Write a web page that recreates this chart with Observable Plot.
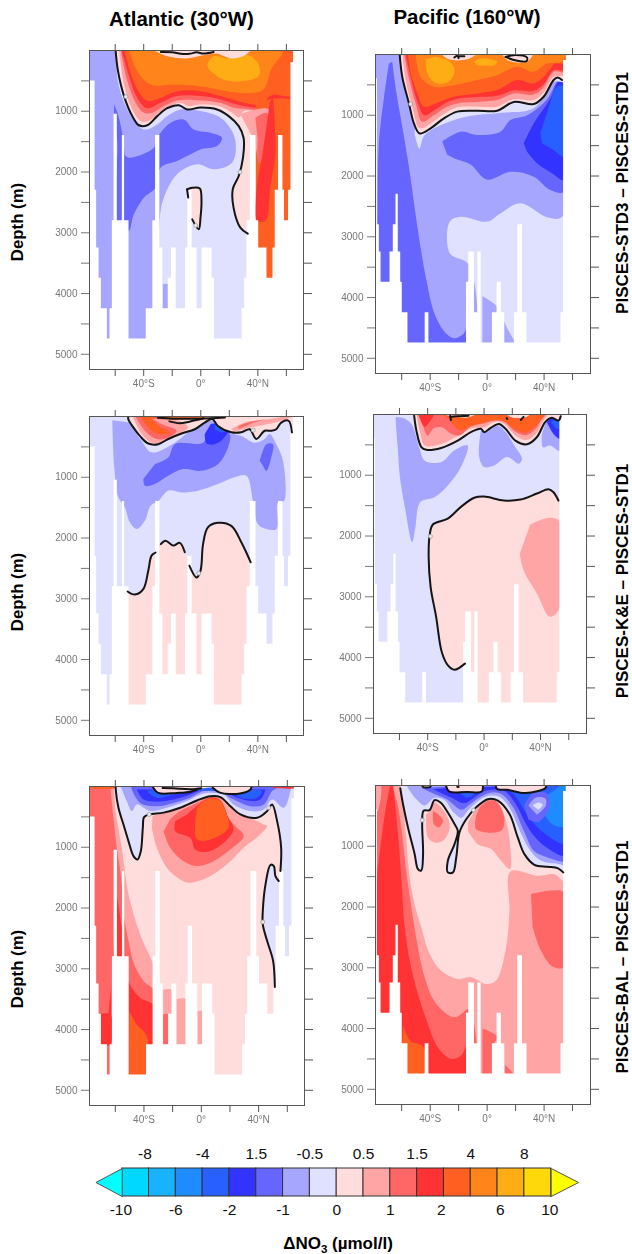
<!DOCTYPE html>
<html><head><meta charset="utf-8">
<script src="https://cdn.jsdelivr.net/npm/d3@7"></script>
<script src="https://cdn.jsdelivr.net/npm/@observablehq/plot@0.6"></script>
<style>
html,body{margin:0;padding:0;background:#fff;width:632px;height:1254px;overflow:hidden;font-family:"Liberation Sans",Arial,sans-serif}
#page{position:relative;width:632px;height:1254px}
.abs{position:absolute}
.panel svg{filter:blur(.45px);display:block;background:transparent}
.txt{position:absolute;font-weight:bold;color:#000;white-space:nowrap;transform:translate(-50%,-50%)}
.rot{transform:translate(-50%,-50%) rotate(-90deg)}
sub{font-size:.68em;line-height:0}
</style></head><body><div id="page"></div>
<script>
// ---- colour key ----
const thresholds=[-10,-8,-6,-4,-2,-1.5,-1,-.5,0,.5,1,1.5,2,4,6,8,10];
const bandColors=["#00ffff","#00d8ff","#19b2ff","#1e8cff","#2860ff","#3333ff","#6666ff","#a6a6ff","#e0e0ff","#ffdddd","#ffa5a5","#ff6666","#ff3333","#ff5f20","#ff851a","#ffad14","#ffd80a","#ffff00"];
const bandValues=[-9,-7,-5,-3,-1.75,-1.25,-.75,-.25,.25,.75,1.25,1.75,3,5,7,9];
const keyTopLabels=["-8","-4","1.5","-0.5","0.5","1.5","4","8"];
const keyBottomLabels=["-10","-6","-2","-1","0","1","2","6","10"];
const keyTopIndex=[.85,3,5,7,9,11,13,15];
const keyBottomIndex=[-.05,2,4,6,8,10,11.9,14.1,15.95];
// ---- axes ----
const latTicks=[-60,-40,-20,0,20,40,60];
const latNames=new Map([[-40,"40°S"],[0,"0°"],[40,"40°N"]]);
const depthTicks=[500,1000,1500,2000,2500,3000,3500,4000,4500,5000];
// ---- sea floor (step function: lat of column's left edge, floor depth) ----
const atlEdges=[-78,-74.1,-73,-71.3,-69.7,-65.5,-63.6,-62,-60.8,-58.5,-55,-53.4,-50.3,-38.2,-33.6,-31.7,-28.7,-26.6,-22.8,-20.5,-17.2,-10.7,-9.1,-6.1,-2.6,.9,7.9,9.6,28.9,30.8,32.4,34.7,38.7,40.6,46.4,50.6,52.2,54.5,57.6,58.7,61.5,63.2,65,72];
const atlFloors=[500,2300,3250,3750,4250,4750,4250,2800,1050,2800,1400,2800,4750,4250,2800,1400,3250,4250,3750,3250,4250,3250,2300,3250,4250,3250,3750,4750,4250,3750,2800,1400,2800,3250,3750,3250,2300,1400,2300,2800,2300,200,0,0];
const pacEdges=[-78.3,-77.1,-75.7,-74.5,-68.2,-65.9,-64,-62.4,-60.7,-59.6,-55.6,-43.5,-40.9,-14.5,-12.9,-8.9,-6.5,-4.2,3.7,7,10,12.4,19.2,21.5,24.8,28,51.9,53.7,55.6,73];
const pacFloors=[400,2800,3250,3750,3250,2800,2300,3250,3750,4250,4750,4250,4750,3750,3250,4250,3250,4750,4250,3750,4250,4750,4250,2800,4250,4750,4250,100,0,0];
const all=[-90,-50,90,-50,90,5400,-90,5400];
// ---- A1: Atlantic, STD3 - STD1 : [band value, [lat,depth,...]] ----
const a1Regions=[
[-.25,all],
[-.75,[-80,0,-60.8,0,-58.5,450,-55,780,-48,1107,-39.9,1300,-30.5,1216,-23.5,1080,-14.2,970,-.2,997,13.8,1107,23,1380,24.2,1710,20.7,1874,9,1956,-2.6,1874,-16.6,2038,-25.9,2422,-28.7,2750,-29.4,3570,-31.7,4780,-80,4780]],
[-.75,[-26.6,3850,-22.8,3850,-22.8,4400,-26.6,4400]],
[-1.25,[-53.4,1710,-50.3,1765,-32.9,1600,-30.5,1435,-21.2,1190,-11.9,1135,-4.9,1300,6.8,1354,14.9,1435,11.4,1573,-.2,1628,-9.6,1737,-16.6,1820,-28.2,1929,-31.7,2258,-39.9,2422,-46.9,2696,-50.3,2970,-53.4,2806]],
[-1.25,[-60.8,885,-58,1052,-55,1381,-53.4,1710,-53.4,2806,-58.5,2806,-58.5,1500,-60.8,1100]],
[.25,[-60,-20,-59.7,0,-58,340,-53.8,750,-48,1080,-43.4,1230,-37.5,1230,-30.5,1080,-23.5,950,-15.4,900,-9.6,970,-.2,940,11.4,970,19.6,1080,26.6,1245,30,1435,29.6,1765,26.6,2066,22.4,2285,23,2590,27.7,2915,32.9,3014,34,4000,70,4000,70,-20]],
[.25,[-9.6,2285,-6,2258,-.7,2270,.5,2477,-.2,2750,-1.4,2943,-6,2780,-8.4,2422]],
[.75,[-57.3,-20,-53.8,560,-48.7,940,-42.2,1160,-36.4,1160,-29.4,1030,-21.2,915,-14.2,860,-8.4,915,-.2,890,12.6,915,21.9,1025,27,1100,30,1000,66,1000,66,-20]],
[1.25,[-56.2,-20,-51.5,504,-45.7,860,-39.9,1025,-34,1025,-25.9,915,-16.6,822,-.2,822,13.8,860,23,943,30,960,66,960,66,-20]],
[1.75,[-55.7,-20,-50.3,420,-44.5,780,-37.5,950,-28.2,860,-16.6,750,-.2,750,13.8,805,30,915,47,960,66,960,66,-20]],
[3,[-53.8,-20,-49.2,370,-44.5,640,-37.5,830,-28.2,780,-16.6,670,-.2,670,13.8,750,30,860,42,890,48,760,51,730,66,730,66,-20]],
[3,[38.5,850,66,850,66,3800,38.5,3800]],
[.75,[27.8,1050,47.6,970,45.3,1570,40.6,1790,38.3,1520]],
[1.25,[38.3,1110,46.4,1030,45.3,1740,40.6,1850,39.9,1465]],
[1.75,[50.6,750,52.3,1680,48.8,2230,45.3,2800,39.4,2800,39.4,2230,43,1740,46.4,1190,48.3,860]],
[5,[-50.3,-20,-44.5,340,-35.2,560,-18.9,560,-.2,590,18.4,670,34.7,700,44,640,49.9,285,56.9,65,58,-20]],
[7,[4.4,230,9,93,18.4,130,32.4,65,40.6,230,40.6,420,30,504,16,477,5.6,312]],
[.25,[-34,-20,-24,90,-10,130,2,80,11,50,21,130,30,90,36,-20]]
];
const a1Lines=[
[-59.7,0,-58,340,-53.8,750,-48,1080,-43.4,1230,-37.5,1230,-30.5,1080,-23.5,950,-15.4,900,-9.6,970,-.2,940,11.4,970,19.6,1080,26.6,1245,30,1435,29.6,1765,26.6,2066,22.4,2285,23,2590,27.7,2915,32.9,3014],
[-9.6,2285,-6,2258,-.7,2270,.5,2477,-.2,2750,-1.4,2943,-6,2780],
[-9.6,2285,-8.8,2420],
[-28,25,-20,30,-14,55,-8,55,-3,30,2,50,9,25]
];
const a1Dots=[[-52.5,760],[27.5,2000],[-3.5,2880]];
// ---- P1: Pacific, STD3 - STD1 ----
const p1Regions=[
[-.25,all],
[-.75,[-90,-20,60,-20,52.6,2670,42,2680,23.4,2450,9.3,2615,0,2750,-18.7,2670,-26.2,2750,-26.2,3270,-12.9,3460,-12.9,4800,-90,4800]],
[-.75,[-3.3,3980,7,4150,13,4450,19,4800,-3.3,4800]],
[-1.25,[-66.6,120,-63.6,640,-59.6,1190,-54.9,1850,-49,2830,-43.2,3650,-36.2,4310,-28,4610,-23.4,4670,-16.4,4590,-14,4450,-14,4800,-78.3,4800,-77,2830,-76,1460,-72.4,700,-69,150]],
[-1.25,[-31.5,1430,-18.7,1270,-7,1325,9.3,1270,16.4,1080,28,1000,42,740,50.2,420,54,420,54,2260,44.4,2230,32.7,2010,16.4,1930,0,2060,-11.7,1810,-21,1730,-28,1650]],
[-1.75,[25.7,1460,32.7,1135,44.4,723,50.2,450,54,480,54,2065,45.6,1955,35,1790,28,1600]],
[-3,[37.4,1300,42,970,49,530,54,530,54,1680,46.7,1570,38.6,1460]],
[-.25,[-51,1300,-47.5,1550,-44,1330,-28,1120,-14,1020,10,960,33,880,47,450,54,450,54,300,-50,1000]],
[.25,[-61.4,-20,-59.6,370,-54.9,805,-51.4,1135,-47.4,1300,-39.7,1215,-30.4,1050,-21,940,-7,925,7,925,18.7,780,32.7,815,39.7,695,46.7,420,49.5,380,54,420,56,-20]],
[.75,[-59.6,-20,-57.2,420,-52.6,860,-47.4,1215,-39.7,1135,-30.4,980,-21,870,-7,860,7,860,18.7,735,32.7,750,39.7,630,46.7,370,54,340,56,-20]],
[1.25,[-58.4,-20,-54.9,395,-50.2,805,-45.6,1105,-37.4,1000,-28,860,-18.7,795,-7,780,7,750,18.7,640,32.7,660,39.7,540,46.7,285,54,285,56,-20]],
[1.75,[-57.5,-20,-53.5,395,-49,780,-44,1000,-36,900,-27,775,-18,720,-7,700,7,680,18.7,590,32.7,600,39.7,490,46.7,260,54,250,56,-20]],
[3,[-55.6,-20,-53.7,310,-49,640,-44.4,860,-36.2,805,-23.4,695,-7,640,7,585,21,420,32.7,475,40.9,340,47.9,150,54,150,56,-20]],
[5,[-50.2,-20,-46.7,370,-37.4,530,-23.4,505,-7,420,7,340,21,200,32.7,285,42,150,52.6,120,55,-20]],
[7,[-43,80,-42,310,-36,470,-26,430,-23,230,-28,90,-37,40]],
[7,[-9.3,120,-4.7,65,7,120,4.7,175,-7,175]],
[.25,[-32.7,-20,-26.9,80,-14,80,-7,-10]],
[.25,[10.5,-20,14,90,28,120,32.7,-20]]
];
const p1Lines=[
[-61.4,0,-59.6,370,-54.9,805,-51.4,1135,-47.4,1300,-39.7,1215,-30.4,1050,-21,940,-7,925,7,925,18.7,780,32.7,815,39.7,695,46.7,420,49.5,380,52.6,420],
[-23,50,-21,20,-20,60],[-20,30,-16,30],
[12.9,40,19.9,10,28,50,27.5,110,18.7,90,12.9,40]
];
const p1Dots=[[-53.7,815]];
// ---- A2: Atlantic, K&E - STD1 ----
const a2Regions=[
[-.25,all],
[-.75,[-62,60,-60.6,840,-57.8,1330,-53.1,1500,-49.7,1740,-45,1850,-39.2,1715,-35.2,1470,-29.8,1390,-22.8,1220,-13.5,1250,-1.9,1220,12,1110,23.8,1000,32,975,36.6,1390,40,1770,46,1850,53,1850,54,1415,58.3,1390,57.6,730,52.9,455,48.3,290,44.8,370,37.8,430,28.4,320,19,260,9.8,80,.5,100,-18.2,430,-34.5,590,-41.5,400,-49.7,100]],
[-1.25,[-40.3,1030,-39.2,1140,-32.2,1110,-22.8,975,-12.4,865,.5,893,12,785,19.1,510,20.3,290,12,125,6.3,210,1.6,430,-18.2,455,-22.8,675,-32.2,785]],
[-1.25,[41.3,730,46,455,50.6,455,49.4,675,46,895,43.6,810]],
[-1.75,[2.8,290,4,445,9.8,455,15.6,370,19,235,13.3,115,7,125]],
[-3,[9.8,125,13.3,115,18,235,14.5,260,9.8,210]],
[.25,[-51.3,2880,-46.2,2930,-40.3,2840,-36.8,2540,-34.5,2290,-31.7,2240,-24.7,2045,-19.3,2125,-14.7,2080,-11.2,2235,-7.7,2455,-3,2650,-.2,2540,1.6,2100,5,1825,12,1750,21.4,1800,28.4,2070,33,2300,33,5000,-51.3,5000]],
[.25,[-51.5,-20,-50.8,45,-47.3,180,-42.7,320,-36.8,445,-29.8,455,-22.8,370,-13.5,280,-4.2,210,2.8,100,8,40,12,155,21.4,260,28.4,260,34.3,210,38.9,370,44.8,235,49.4,235,52.9,210,56.4,100,61.5,70,64.5,260,66,-20]],
[.75,[-48,-20,-41.5,290,-34.5,430,-27.5,430,-15.9,290,-8.9,180,-20,20,-30,-20]],
[1.25,[-46.2,-20,-39.2,235,-31,370,-22.8,345,-17,235,-27.5,125,-36.8,-10]],
[3,[-42.7,-20,-36.8,180,-29.8,290,-21.7,265,-29.8,150,-36.8,-10]],
[.75,[21.4,210,30.8,100,47,45,65,-10,52,100,35,180,24,245]],
[1.25,[26,170,33,100,45,50,36,110,27,200]],
[3,[-2,0,5,30,-30,40,-45,0]]
];
const a2Lines=[
[-50.8,0,-50.8,45,-47.3,180,-42.7,320,-36.8,445,-29.8,455,-22.8,370,-13.5,280,-4.2,210,2.8,100,8,40,12,155,21.4,260,28.4,260,34.3,210,38.9,370,44.8,235,49.4,235,52.9,210,56.4,100,61.5,70,63.9,260],
[-51.3,2880,-46.2,2930,-40.3,2840,-36.8,2540,-34.5,2290,-31.7,2240],
[-28,2100,-24.7,2045,-19.3,2125,-14.7,2080,-11.2,2235],
[-8,2455,-3,2650,-.2,2540,1.6,2100,5,1825,12,1750,21.4,1800,28.4,2070,35,2400],
[-30,20,-20,35,-10,35,0,35,17,15],
[-22,80,-15,110,-8,85,2,30]
];
const a2Dots=[[36.8,225],[-1.4,2580]];
// ---- P2: Pacific, K&E - STD1 ----
const p2Regions=[
[-.25,all],
[-.75,[-62.8,40,-61.4,480,-59.7,1030,-56.2,1520,-51,2100,-48.7,1850,-45.2,1440,-35.1,1360,-24.6,1140,-16.4,865,-11.7,510,-21,590,-30.4,785,-42.2,755,-45.7,565,-51.5,155,-57.4,55]],
[-.75,[-2.3,265,-3.5,700,0,865,7,840,16.4,700,24.6,810,26.9,730,22.2,540,15.2,290,9.4,180,2.3,290]],
[-.75,[41,320,41.7,540,46.8,510,54,600,54,100,44.5,70]],
[-1.75,[44.5,125,49.2,320,54,400,54,100,48,45]],
[-3,[47.3,110,51.5,235,54,235,54,70]],
[.25,[-50,-20,-49.6,15,-48,265,-44.5,535,-41,580,-30.4,550,-18.7,430,-9.4,290,-2.3,235,0,290,4.7,220,10.5,155,15.2,235,22.2,430,30.4,490,37.5,370,43.3,125,48,55,52.7,100,54.3,30,56,-20]],
[.75,[-48,-20,-45.7,265,-42,510,-30,480,-20,370,-9,230,0,210,9,110,15,170,22,340,30,420,37.5,300,42,100,46,-20]],
[1.25,[-46.5,-20,-43,210,-40,350,-36,230,-30,210,-23,320,-17,340,-9,190,0,150,9,80,15,130,22,280,30,340,36.5,240,41,70,45,-20]],
[3,[-30,-20,-25,80,-17,265,-10,200,0,130,8,100,14,110,21,230,29,300,36,200,41,70,44,-20]],
[1.75,[-47,-20,-42,200,-38,100,-35,-20]],
[.25,[-32,-20,-23,30,-12,50,-4,-20]],
[.25,[15,-20,20,50,30,40,34,-20]],
[.25,[-13.6,4100,-21,4200,-25.8,4125,-30,3910,-34,3330,-37.9,2840,-39.3,2345,-38.6,1990,-36.3,1810,-25.8,1715,-16.4,1520,-7,1370,0,1350,14,1415,25.8,1400,37.5,1300,45.7,1230,49.2,1280,54,1415,54,5000,-13,5000]],
[.75,[32.7,1810,46.8,1700,54,1770,54,3170,46.8,3330,37.5,2950,28,2565,25.3,2290]]
];
const p2Lines=[
[-49.6,15,-48,265,-44.5,535,-41,580,-30.4,550,-18.7,430,-9.4,290,-2.3,235,0,290,4.7,220,10.5,155,15.2,235,22.2,430,30.4,490,37.5,370,43.3,125,48,55,52.7,100,54.3,30],
[-13.6,4100,-21,4200,-25.8,4125,-30,3910,-34,3330,-37.9,2840,-39.3,2345,-38.6,1990,-36.3,1810,-25.8,1715,-16.4,1520,-7,1370,0,1350,14,1415,25.8,1400,37.5,1300,45.7,1230,49.2,1280,52.7,1415],
[-24,40,-20,30,-11,20],[-24,20,-23.5,90],
[16,60,16.5,75],[26,90,28,40]
];
const p2Dots=[[-38,2005]];
// ---- A3: Atlantic, BAL - STD1 ----
const a3Regions=[
[.25,all],
[.75,[-60,400,-55.5,1010,-50.8,1775,-42.7,2430,-34.5,2870,-33,3000,-33,5000,-80,5000,-80,-20,-61,-20]],
[1.25,[-63.6,-20,-61.3,515,-59,1010,-56.2,1445,-53.8,2160,-50.8,2540,-46.9,2925,-40.3,3200,-33,3365,-33,5000,-80,5000,-80,-20]],
[1.75,[-58.5,1830,-55.5,2320,-50.8,3200,-42.7,3475,-33,3610,-33,5000,-62,5000,-62,3000,-59,2000]],
[1.25,[-63,3000,-62,3000,-62,5000,-66,5000,-66,4250,-63,4250]],
[1.75,[-72,3750,-63.6,3750,-63.6,4250,-72,4250]],
[3,[-50.3,3700,-45,3920,-38.2,4100,-38.2,5000,-50.3,5000]],
[.75,[-34.5,680,-31,1010,-24,1340,-14.7,1530,-8.9,1585,4,1500,18,1280,29.6,1010,40,815,45.9,650,43.6,625,34.3,515,20,325,13,175,6,160,-3,230,-15,350,-26,430,-34,480]],
[1.25,[-26.3,735,-21.7,1010,-12.4,1230,-3,1310,6.3,1255,20.3,1035,29.6,815,22.6,625,18,490,13.3,215,6.3,175,-3,270,-14.7,405,-21.7,540]],
[1.75,[-18.2,570,-18.2,735,-7.7,845,-4.2,1035,4,1075,15.6,925,22.6,705,19,515,13.3,230,6.3,185,-1.9,300,-10,460]],
[3,[-3,350,-3,870,8.6,855,19,680,18,490,13.3,240,6.3,195,.5,270]],
[.75,[-26.6,3350,-20.5,3350,-20.5,4300,-26.6,4300]],
[1.25,[-26.6,3750,-22.8,3750,-22.8,4300,-26.6,4300]],
[.75,[-17.2,3500,-10.7,3500,-10.7,4300,-17.2,4300]],
[.75,[-2.6,3700,.9,3700,.9,4300,-2.6,4300]],
[-.25,[-59.7,-20,-59.7,50,-57.8,350,-54.3,625,-50.8,900,-47.3,1145,-44.5,1200,-42.2,1065,-40.8,680,-39.9,505,-36.4,460,-26.3,430,-14.7,350,-3,230,6.3,160,13.3,175,20.3,325,27.3,460,38.9,515,45.9,405,49.4,295,52.9,570,55.7,1010,55.2,1390,54,1555,51.7,1475,50.6,1310,48.3,1290,44.8,1610,42.9,2050,42.9,2270,45.9,2540,50.1,2870,51.3,3300,66,3300,66,-20]],
[-.75,[-56.6,-20,-52,240,-48.5,405,-45,295,-35.7,405,-24,350,-10,240,-.7,130,8.6,105,15.6,130,22.6,295,34.3,405,43.6,380,49.4,215,57.6,350,62.2,75,63,-20]],
[-1.25,[-48.5,50,-42.7,270,-31,325,-19.3,270,-7.7,185,1.6,75,13.3,90,22.6,215,34.3,325,43.6,295,49.4,75,52.9,20,-49,10]],
[-1.75,[-45,50,-40.3,215,-31,250,-19.3,215,-7.7,130,1.6,50,13.3,50,22.6,160,34.3,240,41.3,215,44.8,50]],
[-3,[-38,75,-31,185,-19.3,130,-7.7,75,20.3,105,29.6,197,38.9,185,42.4,75,36,50,20,20,-7.7,20,-31,50]],
[.25,[-34,-20,-30,105,-17,105,-3,50,8,20,13,100,27,115,34.3,50,35,-20]],
[1.75,[50,-20,66,-20,66,20,50,25]],
[3,[-80,-20,-60,-20,-60,25,-80,25]]
];
const a3Lines=[
[-59.7,0,-59.7,50,-57.8,350,-54.3,625,-50.8,900,-47.3,1145,-44.5,1200,-42.2,1065,-40.8,680,-39.9,505,-36.4,460,-26.3,430,-14.7,350,-3,230,6.3,160,13.3,175,20.3,325,27.3,460,38.9,515,45.9,405,49.4,295,52.9,570,55.7,1010,55.2,1390],
[54,1555,51.7,1475,50.6,1310,48.3,1290,44.8,1610,42.9,2050,42.9,2270,45.9,2540,50.1,2870,51.3,3300],
[-34,0,-30,105,-17,105,-8,90,-3,50],
[8,20,13,100,27,115,34.3,50,35,0],
[-27,25,-15,35,-5,45,0,30]
];
const a3Dots=[[-36.4,460],[47,350],[42.9,2230]];
// ---- P3: Pacific, BAL - STD1 ----
const p3Regions=[
[.75,all],
[.25,[-60,-20,-57,800,-55,1400,-51,1950,-46.3,2330,-40.4,2770,-32.2,3050,-20.6,3185,-11.2,3155,-.7,3266,6.3,3210,13.3,2660,15.7,2060,16.4,1414,35.5,1485,47.2,1460,54,1570,56,1430,56,-20]],
[1.25,[-67,-20,-63,300,-60.3,690,-56.8,1400,-53.3,2000,-49.8,2500,-43.9,3155,-35.7,3595,-22.9,3815,-13.6,3680,-12,3680,-12,5000,-80,5000,-80,-20]],
[1.75,[-66.1,-20,-63,690,-60.3,1510,-57.9,2330,-54.4,2880,-48.6,3430,-41.6,3925,-34.6,4310,-25.2,4500,-18.2,4445,-14,4250,-14,5000,-80,5000,-80,2000,-76.5,1300,-72,500,-68,-20]],
[.75,[-80,-20,-75,-20,-76.5,400,-80,500]],
[3,[-59,3950,-54,4200,-45,4300,-43.5,4800,-55.6,4800,-59.6,4250]],
[1.25,[30.8,1790,44.9,1730,54,1760,54,2990,46,2980,37.9,2720,32,2335]],
[1.25,[-3.3,4000,7.5,4140,5,4250,5,5000,-3.3,5000]],
[1.25,[12.6,4600,18,4750,12.6,4800]],
[-.25,[-61,-20,-61,45,-59.1,305,-55.6,690,-50.9,1130,-48.6,1375,-46.3,1400,-45,1130,-45.6,610,-44.6,415,-40.4,405,-36.9,240,-32.7,280,-27.6,445,-22.9,635,-20.6,745,-22.9,965,-27.6,1240,-27.6,1430,-24,1430,-21.7,1185,-19.4,770,-14.7,555,-7.7,360,.5,225,7.5,250,15.7,470,21.5,855,26.2,1130,33.2,1305,42.5,1337,49.5,1360,55,1430,56,-20]],
[-.75,[-56,30,-50,220,-44,330,-37,200,-30,240,-24,430,-18,530,-13,400,-6,250,1,170,9,190,16,380,24,800,30,1060,38,1240,50,1290,55,1300,56,-20,-56,-20]],
[-1.25,[-46,40,-36,150,-28,230,-18,400,-12,310,-5,190,2,120,10,140,18,350,26,760,33,1080,42,1180,52,1250,55,1250,56,-20,-30,20]],
[-1.75,[-38,60,-25,200,-16,290,-8,180,0,80,12,90,20,300,27,620,34,860,43,1040,55,1150,56,30,20,20,-20,30]],
[-3,[-20,100,-14,200,-8,130,-2,50,-10,40]],
[-3,[14,50,20,180,28,480,35,680,44,850,55,950,56,20,30,20]],
[-5,[46,100,38,280,44,600,50,680,56,650,56,20,50,20]],
[-1.25,[26,330,32,130,42,130,44,350,36,600,29,560]],
[-.75,[29,330,34,200,41,220,41,340,35,480]],
[-.25,[32,330,36,280,39,320,36,400]],
[.25,[-45,-20,-45,25,-41,25,-40,-20]],
[.25,[-29,-20,-27,90,-16,100,-4,100,-3,-20]],
[.25,[6,-20,8,60,15,70,27,120,40,60,41,-20]],
[.75,[-42.8,470,-41.6,855,-36.9,937,-31,910,-26.4,720,-27.6,525,-33.4,335,-36.9,280,-40.4,445]],
[1.25,[-38,415,-37.4,635,-34,690,-31,580,-34.6,470]],
[.75,[-13.5,745,-6.5,965,2.8,1045,9.8,1240,16,1375,16.1,965,13.3,580,7.5,280,.5,240,-7.7,390,-13.5,610]],
[1.25,[-7.7,500,-7.7,720,9.8,745,12,525,6.3,263,.5,250,-5.4,360]]
];
const p3Lines=[
[-61,45,-59.1,305,-55.6,690,-50.9,1130,-48.6,1375,-46.3,1400,-45,1130,-45.6,610,-44.6,415,-40.4,405,-36.9,240,-32.7,280,-27.6,445,-22.9,635,-20.6,745,-22.9,965,-27.6,1240,-27.6,1430,-24,1430,-21.7,1185,-19.4,770,-14.7,555,-7.7,360,.5,225,7.5,250,15.7,470,21.5,855,26.2,1130,33.2,1305,42.5,1337,49.5,1360,53.5,1430],
[-45.5,0,-45,25,-40,25,-39.5,0],
[-29,0,-26.5,100,-14,105,-3.8,100,-3,0],
[6,0,7,60,14,70,27,125,41,40,41.5,0],
[-21,20,-20,25]
];
const p3Dots=[[-45.6,570],[-9.6,405]];

// ---- assemble ----
const page=document.getElementById("page");
const fontFamily='"Liberation Sans",Arial,sans-serif';
function rowsOfRegions(regions){
  return regions.flatMap(([v,p],id)=>d3.range(0,p.length,2).map(i=>({id,v,lat:p[i],depth:p[i+1]})));
}
function rowsOfLines(lines){
  return lines.flatMap((p,id)=>d3.range(0,p.length,2).map(i=>({id,lat:p[i],depth:p[i+1]})));
}
function panel(left,top,width,domain,edges,floors,regions,lines,dots){
  const ml=50,mr=22,mt=12,mb=30,h=319;
  const floorRows=edges.map((lat,i)=>({lat,floor:floors[i]}));
  const svg=Plot.plot({
    width:ml+width+mr,height:mt+h+mb,marginLeft:ml,marginRight:mr,marginTop:mt,marginBottom:mb,
    style:{background:"transparent",fontFamily},
    x:{domain,label:null},
    y:{domain:[0,5250],reverse:true,label:null},
    color:{type:"threshold",domain:thresholds,range:bandColors},
    marks:[
      Plot.line(rowsOfRegions(regions),{x:"lat",y:"depth",z:"id",fill:"v",stroke:"none",curve:"catmull-rom",clip:true}),
      Plot.areaY(floorRows,{x:"lat",y1:"floor",y2:()=>5250,curve:"step-after",fill:"white",clip:true}),
      Plot.line(rowsOfLines(lines),{x:"lat",y:"depth",z:"id",stroke:"#151515",strokeWidth:2,curve:"catmull-rom",clip:true}),
      Plot.dot(dots,{x:d=>d[0],y:d=>d[1],r:2,fill:"#e8e8e8",stroke:"#999",strokeWidth:.7}),
      Plot.frame({stroke:"#555",strokeWidth:1}),
      Plot.axisX({anchor:"bottom",ticks:latTicks,tickSize:7,tickPadding:3,stroke:"#555",fill:"#777",fontSize:10,label:null,tickFormat:d=>latNames.get(d)??""}),
      Plot.axisX({anchor:"top",ticks:latTicks,tickSize:7,stroke:"#555",label:null,tickFormat:()=>""}),
      Plot.axisY({anchor:"left",ticks:depthTicks,tickSize:8,tickPadding:4,stroke:"#777",fill:"#777",fontSize:10,label:null,tickFormat:d=>d%1000?"":String(d)}),
      Plot.axisY({anchor:"right",ticks:depthTicks,tickSize:8,stroke:"#555",label:null,tickFormat:()=>""})
    ]
  });
  const d=document.createElement("div");
  d.className="abs panel";d.style.left=(left-ml)+"px";d.style.top=(top-mt)+"px";
  d.appendChild(svg);page.appendChild(d);
}
const atlDom=[-78,72],pacDom=[-78.4,72.6];
panel(89,50,214,atlDom,atlEdges,atlFloors,a1Regions,a1Lines,a1Dots);
panel(375,54,215,pacDom,pacEdges,pacFloors,p1Regions,p1Lines,p1Dots);
panel(89,416,214,atlDom,atlEdges,atlFloors,a2Regions,a2Lines,a2Dots);
panel(373,414,213,pacDom,pacEdges,pacFloors,p2Regions,p2Lines,p2Dots);
panel(89,786,215,atlDom,atlEdges,atlFloors,a3Regions,a3Lines,a3Dots);
panel(375,785,215,pacDom,pacEdges,pacFloors,p3Regions,p3Lines,p3Dots);

// colour key
const keyRows=bandValues.map((v,i)=>({v,i}));
const key=Plot.plot({
  width:632,height:90,margin:0,style:{background:"transparent",fontFamily},
  x:{domain:[0,16],range:[121.7,550.7],label:null,axis:null},
  y:{domain:[0,1],range:[56,28],label:null,axis:null},
  color:{type:"threshold",domain:thresholds,range:bandColors},
  marks:[
    Plot.rect(keyRows,{x1:"i",x2:d=>d.i+1,y1:()=>0,y2:()=>1,fill:"v",stroke:"#333",strokeWidth:1,inset:0}),
    Plot.line([{x:0,y:0,v:-11},{x:0,y:1,v:-11},{x:-.98,y:.5,v:-11},{x:0,y:0,v:-11}],{x:"x",y:"y",fill:"v",stroke:"#555",strokeWidth:1}),
    Plot.line([{x:16,y:0,v:11},{x:16,y:1,v:11},{x:17.02,y:.5,v:11},{x:16,y:0,v:11}],{x:"x",y:"y",fill:"v",stroke:"#555",strokeWidth:1}),
    Plot.text(keyTopLabels,{x:(d,i)=>keyTopIndex[i],y:()=>1,dy:-14,text:d=>d,fontSize:15.5,fill:"#111"}),
    Plot.text(keyBottomLabels,{x:(d,i)=>keyBottomIndex[i],y:()=>0,dy:14,text:d=>d,fontSize:15.5,fill:"#111"})
  ]
});
const kd=document.createElement("div");kd.className="abs";kd.style.left="0";kd.style.top="1140px";kd.appendChild(key);page.appendChild(kd);

// titles
function txt(html,x,y,size,rot){
  const d=document.createElement("div");d.className="txt"+(rot?" rot":"");
  d.innerHTML=html;d.style.left=x+"px";d.style.top=y+"px";d.style.fontSize=size+"px";page.appendChild(d);
}
txt("Atlantic (30°W)",181.5,19,20.5);
txt("Pacific (160°W)",467,17,20.5);
txt("Depth (m)",18,222,16.8,true);
txt("Depth (m)",18,592,16.8,true);
txt("Depth (m)",18,969,16.8,true);
txt("PISCES-STD3 – PISCES-STD1",623,193,17,true);
txt("PISCES-K&amp;E – PISCES-STD1",623,581,17,true);
txt("PISCES-BAL – PISCES-STD1",623,957,17,true);
txt("ΔNO<sub>3</sub> (µmol/l)",338,1244,17);
</script></body></html>
